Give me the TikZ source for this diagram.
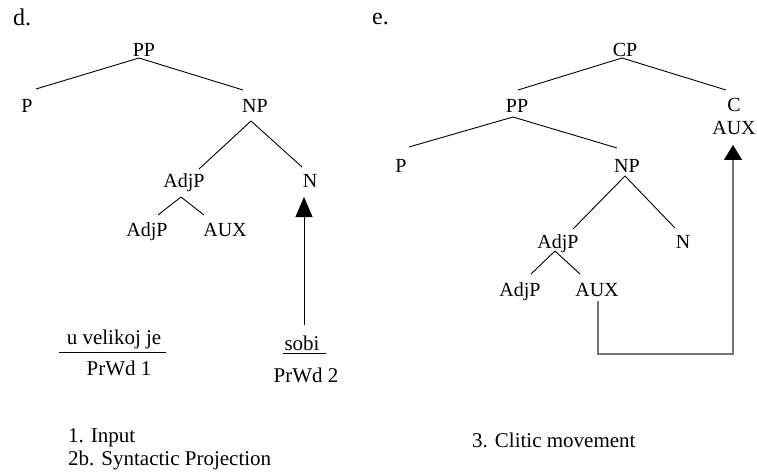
\documentclass[tikz,border=0pt]{standalone}
\usepackage{fontspec}
\setmainfont{Liberation Serif}
\usetikzlibrary{calc,arrows.meta}
\begin{document}
\begin{tikzpicture}[x=1pt,y=-1pt,
  lab/.style={inner sep=0pt,anchor=base,font=\fontsize{20}{24}\selectfont},
  word/.style={inner sep=0pt,anchor=base,font=\fontsize{21}{25}\selectfont},
  capt/.style={inner sep=0pt,anchor=base west,font=\fontsize{21}{25}\selectfont},
  panellabel/.style={inner sep=0pt,anchor=base west,font=\fontsize{24}{28}\selectfont},
  treeedge/.style={line width=0.9pt},
  movegrey/.style={line width=1.3pt,draw={rgb,255:red,115;green,115;blue,115}}]
\useasboundingbox (0,0) rectangle (757,473);
% left tree
\node[panellabel] (dl) at (13,26) {d.};
\node[lab] (ppL) at (144,57) {PP};
\node[lab] (pL) at (27,113) {P};
\node[lab] (npL) at (255,113) {NP};
\node[lab] (adjL) at (184,187) {AdjP};
\node[lab] (nL) at (310,187) {N};
\node[lab] (adjbL) at (147,236) {AdjP};
\node[lab] (auxL) at (225,236) {AUX};
\node[word] (w1) at (114,344) {u velikoj je};
\node[word] (prw1) at (119,375) {PrWd 1};
\node[word] (sobi) at (302,350) {sobi};
\node[word] (prw2) at (306,382) {PrWd 2};
\node[capt] (c1) at (68,442) {1. Input};
\node[capt] (c2) at (68,465) {2b. Syntactic Projection};
\draw[treeedge] ($(ppL.base)+(-5,1)$) -- ($(pL.base)+(9,-24)$);
\draw[treeedge] ($(ppL.base)+(-5,1)$) -- ($(npL.base)+(-12,-23)$);
\draw[treeedge] ($(npL.base)+(-4,8)$) -- ($(adjL.base)+(15,-18)$);
\draw[treeedge] ($(npL.base)+(-4,8)$) -- ($(nL.base)+(-8,-20)$);
\draw[treeedge] ($(adjL.base)+(-3,10)$) -- ($(adjbL.base)+(11,-21)$);
\draw[treeedge] ($(adjL.base)+(-3,10)$) -- ($(auxL.base)+(-21,-21)$);
\draw[treeedge] ($(w1.base)+(-55,8)$) -- ($(w1.base)+(52,8)$);
\draw[treeedge] ($(sobi.base)+(-19,3)$) -- ($(sobi.base)+(24,3)$);
\draw[treeedge,-{Triangle[width=17pt,length=20pt]}] ($(sobi.base)+(2,-25)$) -- ($(nL.base)+(-6,10)$);
% right tree
\node[panellabel] (el) at (372,25) {e.};
\node[lab] (cp) at (625,57) {CP};
\node[lab] (ppR) at (517,113) {PP};
\node[lab] (cR) at (734,112) {C};
\node[lab] (auxC) at (734,135) {AUX};
\node[lab] (pR) at (401,173) {P};
\node[lab] (npR) at (627,173) {NP};
\node[lab] (adjR) at (558,248) {AdjP};
\node[lab] (nR) at (683,248) {N};
\node[lab] (adjbR) at (520,296) {AdjP};
\node[lab] (auxR) at (597,296) {AUX};
\node[capt] (c3) at (472,447) {3. Clitic movement};
\draw[treeedge] ($(cp.base)+(-3,1)$) -- ($(ppR.base)+(1,-23)$);
\draw[treeedge] ($(cp.base)+(-3,1)$) -- ($(cR.base)+(-8,-22)$);
\draw[treeedge] ($(ppR.base)+(-4,4)$) -- ($(pR.base)+(8,-26)$);
\draw[treeedge] ($(ppR.base)+(-4,4)$) -- ($(npR.base)+(-10,-25)$);
\draw[treeedge] ($(npR.base)+(-2,3)$) -- ($(adjR.base)+(15,-19)$);
\draw[treeedge] ($(npR.base)+(-2,3)$) -- ($(nR.base)+(-8,-20)$);
\draw[treeedge] ($(adjR.base)+(-3,3)$) -- ($(adjbR.base)+(11,-22)$);
\draw[treeedge] ($(adjR.base)+(-3,3)$) -- ($(auxR.base)+(-17,-22)$);
\draw[movegrey,-{Triangle[width=18pt,length=15pt,color=black]}] ($(auxR.base)+(1,5)$) -- ++(0,53) -| ($(auxC.base)+(-1,10)$);
\end{tikzpicture}
\end{document}
